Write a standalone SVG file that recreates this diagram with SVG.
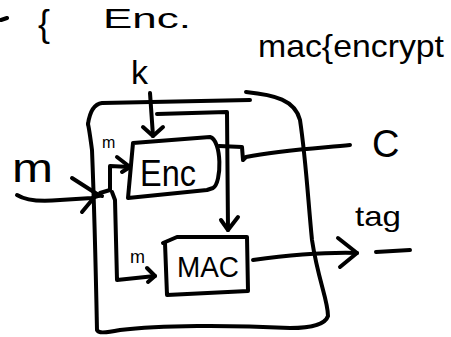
<svg xmlns="http://www.w3.org/2000/svg" width="451" height="337" viewBox="0 0 451 337">
<style>
.s{fill:none;stroke:#000;stroke-width:4;stroke-linecap:round;stroke-linejoin:round}
.t{font-family:"Liberation Sans",Arial,sans-serif;fill:#000}
</style>
<rect width="451" height="337" fill="#fff"/>
<g id="header">
<path class="s" d="M1 20 L7 18"/>
<text class="t" x="38" y="36" font-size="36">{</text>
<text class="t" x="103" y="28" font-size="28" textLength="88" lengthAdjust="spacingAndGlyphs">Enc.</text>
<text class="t" x="258" y="57" font-size="32" textLength="186" lengthAdjust="spacingAndGlyphs">mac{encrypt</text>
</g>
<g id="outer">
<path class="s" d="M88 124 C90 110 95 104 102 103 L250 100"/>
<path class="s" d="M246 92 C275 95 295 100 300 120 C306 160 308 200 312 240 C318 280 328 300 328 316 C325 325 310 328 290 328 C230 325 160 325 120 330 C105 333 98 333 97 330 C96 280 94 200 92 150 C90 135 89 128 88 124"/>
</g>
<g id="enc">
<path class="s" d="M133 143 L210 137 C222 140 222 183 213 188 L207 190 L128 198 L133 143 Z"/>
<text class="t" x="140" y="186" font-size="36" textLength="56" lengthAdjust="spacingAndGlyphs">Enc</text>
</g>
<g id="mac">
<path class="s" d="M163 243 L177 237 L247 237 L248 291 L167 295 L165 243"/>
<text class="t" x="177" y="277" font-size="30" textLength="62" lengthAdjust="spacingAndGlyphs">MAC</text>
</g>
<g id="labels">
<text class="t" x="131" y="84" font-size="34">k</text>
<text class="t" x="12" y="182" font-size="40" textLength="41" lengthAdjust="spacingAndGlyphs">m</text>
<text class="t" x="102" y="148" font-size="16">m</text>
<text class="t" x="130" y="263" font-size="18">m</text>
<text class="t" x="372" y="157" font-size="38">C</text>
<text class="t" x="355" y="226" font-size="28" textLength="46" lengthAdjust="spacingAndGlyphs">tag</text>
<path class="s" d="M376 252 L410 250"/>
</g>
<g id="connectors">
<path class="s" d="M150 93 L153 136"/>
<path class="s" d="M143 127 L153 136 L163 127"/>
<path class="s" d="M157 114 L227 112 L228 230"/>
<path class="s" d="M221 220 L228 230 L238 217"/>
<path class="s" d="M219 146 L242 147 L243 160 L246 157 C280 150 320 148 350 145"/>
<path class="s" d="M17 195 C25 200 40 202 60 200 L92 198 C98 196 100 195 102 196"/>
<path class="s" d="M72 178 L97 194 L82 212"/>
<path class="s" d="M100 193 L110 190 L110 166 L130 167"/>
<path class="s" d="M117 157 L130 167 L122 172"/>
<path class="s" d="M112 192 L115 200 L117 280 L155 276"/>
<path class="s" d="M147 268 L155 276 L148 282"/>
<path class="s" d="M253 260 C290 255 320 252 357 253"/>
<path class="s" d="M338 238 L357 253 L340 267"/>
</g>
</svg>
